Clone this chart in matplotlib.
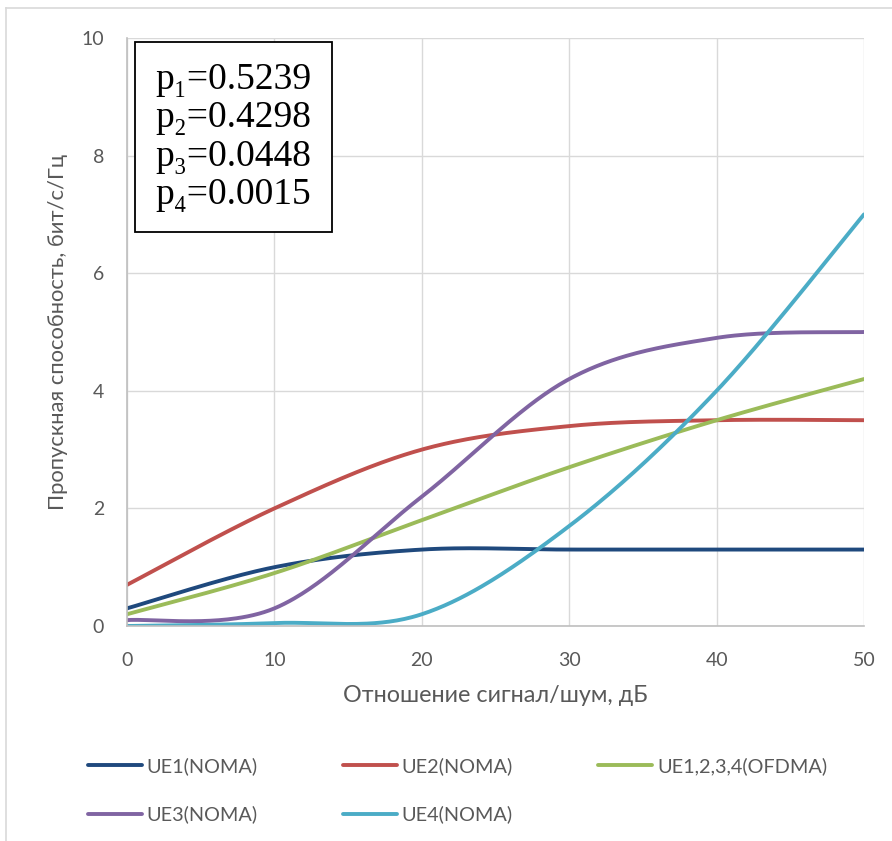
import numpy as np
import matplotlib
matplotlib.use("Agg")
import matplotlib.pyplot as plt
from matplotlib.lines import Line2D

# Signal-to-noise ratio, dB
snr = [0, 10, 20, 30, 40, 50]

# Throughput, bit/s/Hz
ue1_noma = [0.3, 1.0, 1.3, 1.3, 1.3, 1.3]
ue2_noma = [0.7, 2.0, 3.0, 3.4, 3.5, 3.5]
ofdma = [0.2, 0.9, 1.8, 2.7, 3.5, 4.2]
ue3_noma = [0.1, 0.3, 2.2, 4.2, 4.9, 5.0]
ue4_noma = [0.0, 0.05, 0.2, 1.7, 4.0, 7.0]

series_names = ["UE1(NOMA)", "UE2(NOMA)", "UE1,2,3,4(OFDMA)", "UE3(NOMA)", "UE4(NOMA)"]
series_values = [ue1_noma, ue2_noma, ofdma, ue3_noma, ue4_noma]
series_colors = ["#1F497D", "#C0504D", "#9BBB59", "#8064A2", "#4BACC6"]

powers = ["0.5239", "0.4298", "0.0448", "0.0015"]

x_ticks = [0, 10, 20, 30, 40, 50]
y_ticks = [0, 2, 4, 6, 8, 10]


def smooth(xs, ys, n=60):
    """Cubic Bezier smoothing through the points (spreadsheet-style)."""
    p = np.column_stack([xs, ys]).astype(float)
    m = len(p)
    out = []
    for i in range(m - 1):
        p0 = p[i - 1] if i > 0 else p[i]
        p1 = p[i]
        p2 = p[i + 1]
        p3 = p[i + 2] if i + 2 < m else p[i + 1]
        c1 = p1 + (p2 - p0) / 6.0
        c2 = p2 - (p3 - p1) / 6.0
        t = np.linspace(0, 1, n)[:, None]
        seg = ((1 - t) ** 3) * p1 + 3 * ((1 - t) ** 2) * t * c1 + 3 * (1 - t) * t ** 2 * c2 + t ** 3 * p2
        out.append(seg if i == 0 else seg[1:])
    pts = np.vstack(out)
    return pts[:, 0], pts[:, 1]


sans = ["Lato", "Open Sans", "DejaVu Sans"]
serif = ["Liberation Serif", "DejaVu Serif"]
text_color = "#595959"
grid_color = "#D9D9D9"

fig = plt.figure(figsize=(8.92, 8.41), dpi=100)
ax = fig.add_axes([127 / 892, 1 - 626 / 841, (864 - 127) / 892, (626 - 38) / 841])

lines = {}
for name, vals, col in zip(series_names, series_values, series_colors):
    sx, sy = smooth(snr, vals)
    lines[name], = ax.plot(sx, sy, color=col, lw=2.8, solid_capstyle="round", label=name)

ax.set_xlim(0, 50)
ax.set_ylim(0, 10)
ax.set_xticks(x_ticks)
ax.set_yticks(y_ticks)
ax.grid(True, color=grid_color, lw=1.0)
ax.set_axisbelow(True)
for s in ["top", "right"]:
    ax.spines[s].set_visible(False)
for s in ["left", "bottom"]:
    ax.spines[s].set_color("#BFBFBF")
    ax.spines[s].set_linewidth(1.2)
ax.tick_params(length=0, labelsize=14, labelcolor=text_color)
ax.tick_params(axis="x", pad=19)
ax.tick_params(axis="y", pad=16.5)
for lab in ax.get_xticklabels() + ax.get_yticklabels():
    lab.set_family(sans)

ax.set_xlabel("Отношение сигнал/шум, дБ", fontsize=16.8, color=text_color,
              family=sans, labelpad=11)
ax.set_ylabel("Пропускная способность, бит/с/Гц", fontsize=15.8, color=text_color,
              family=sans, labelpad=10)

# power allocation coefficients
subs = "₁₂₃₄"
box_text = "\n".join(f"p{subs[i]}={v}" for i, v in enumerate(powers))
ax.text(0.0388, 0.958, box_text, transform=ax.transAxes, ha="left", va="top",
        fontsize=27, family=serif, color="black", linespacing=1.14,
        bbox=dict(boxstyle="square,pad=0.55", fc="white", ec="black", lw=1.3))

# legend filled row by row (three columns)
order = ["UE1(NOMA)", "UE3(NOMA)", "UE2(NOMA)", "UE4(NOMA)", "UE1,2,3,4(OFDMA)"]
fig.legend([lines[k] for k in order], order, loc="upper left",
           bbox_to_anchor=(88 / 892, 1 - 757 / 841),
           ncol=3, frameon=False, handlelength=2.7, handletextpad=0.25,
           columnspacing=4.3, labelspacing=1.55, borderpad=0, borderaxespad=0,
           labelcolor=text_color, prop={"family": sans, "size": 14.3})

# chart area border
fig.add_artist(Line2D([6 / 892, 6 / 892], [0, 1 - 8 / 841], transform=fig.transFigure,
                      color="#D9D9D9", lw=1.2))
fig.add_artist(Line2D([6 / 892, 1], [1 - 8 / 841, 1 - 8 / 841], transform=fig.transFigure,
                      color="#D9D9D9", lw=1.2))

fig.savefig("out.png", dpi=100)
